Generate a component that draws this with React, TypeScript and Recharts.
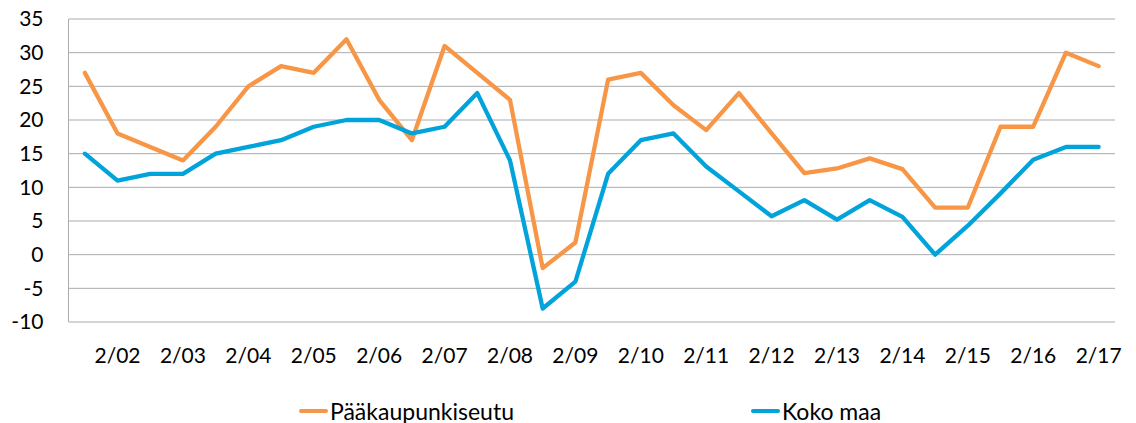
import { LineChart, Line, XAxis, YAxis, CartesianGrid, Legend } from "recharts"

const quarters = [
  "4/01",
  "2/02", "4/02", "2/03", "4/03", "2/04", "4/04", "2/05", "4/05",
  "2/06", "4/06", "2/07", "4/07", "2/08", "4/08", "2/09", "4/09",
  "2/10", "4/10", "2/11", "4/11", "2/12", "4/12", "2/13", "4/13",
  "2/14", "4/14", "2/15", "4/15", "2/16", "4/16", "2/17",
]

const capital = [
  27, 18, 16, 14, 19, 25, 28, 27, 32, 23, 17, 31, 27, 23, -2, 1.8,
  26, 27, 22.2, 18.5, 24, 18, 12.1, 12.8, 14.3, 12.7, 7, 7, 19, 19, 30, 28,
]

const wholeCountry = [
  15, 11, 12, 12, 15, 16, 17, 19, 20, 20, 18, 19, 24, 14, -8, -4,
  12, 17, 18, 13.1, 9.4, 5.7, 8.1, 5.2, 8.1, 5.6, 0, 4.3, 9.1, 14.1, 16, 16,
]

const yTicks = [-10, -5, 0, 5, 10, 15, 20, 25, 30, 35]

const ORANGE = "#F79646"
const BLUE = "#00A3DA"
const GRID = "#ABABAB"
const FONT = "Lato, 'Open Sans', sans-serif"

const data = quarters.map((q, i) => ({
  q,
  capital: capital[i],
  country: wholeCountry[i],
}))

function LegendBox() {
  const items = [
    { label: "Pääkaupunkiseutu", color: ORANGE, left: 299 },
    { label: "Koko maa", color: BLUE, left: 751 },
  ]
  return (
    <div style={{ position: "relative", width: 1136, height: 26, fontFamily: FONT, fontSize: 23, color: "#000" }}>
      {items.map((it) => (
        <div key={it.label} style={{ position: "absolute", left: it.left, top: 0, display: "flex", alignItems: "center" }}>
          <span style={{ display: "inline-block", width: 29, height: 4, borderRadius: 2, background: it.color, marginRight: 2 }} />
          <span>{it.label}</span>
        </div>
      ))}
    </div>
  )
}

export default function App() {
  return (
    <div style={{ marginLeft: -8, marginTop: -8, width: 1136, height: 423, background: "#fff" }}>
      <LineChart width={1136} height={423} data={data} margin={{ top: 19, right: 21, bottom: 0, left: 0 }}>
        <CartesianGrid vertical={false} stroke={GRID} strokeWidth={1} />
        <XAxis
          dataKey="q"
          padding={{ left: 16.35, right: 16.35 }}
          interval={0}
          axisLine={false}
          tickLine={false}
          tickSize={0}
          tickMargin={26}
          height={75}
          tick={{ fill: "#000", fontSize: 21, fontFamily: FONT }}
          tickFormatter={(v: string) => (v.startsWith("2/") ? v : "")}
        />
        <YAxis
          domain={[-10, 35]}
          ticks={yTicks}
          interval={0}
          width={68.5}
          axisLine={{ stroke: GRID }}
          tickLine={false}
          tickSize={0}
          tickMargin={25}
          tick={{ fill: "#000", fontSize: 21, fontFamily: FONT }}
        />
        <YAxis yAxisId="border" orientation="right" width={0} tick={false} tickLine={false} axisLine={{ stroke: GRID }} />
        <Legend
          verticalAlign="bottom"
          content={() => <LegendBox />}
          wrapperStyle={{ left: 0, top: 397, width: 1136 }}
        />
        <Line
          type="linear"
          dataKey="capital"
          name="Pääkaupunkiseutu"
          stroke={ORANGE}
          strokeWidth={4.3}
          strokeLinejoin="round"
          strokeLinecap="round"
          dot={false}
          activeDot={false}
          isAnimationActive={false}
        />
        <Line
          type="linear"
          dataKey="country"
          name="Koko maa"
          stroke={BLUE}
          strokeWidth={4.3}
          strokeLinejoin="round"
          strokeLinecap="round"
          dot={false}
          activeDot={false}
          isAnimationActive={false}
        />
      </LineChart>
    </div>
  )
}
